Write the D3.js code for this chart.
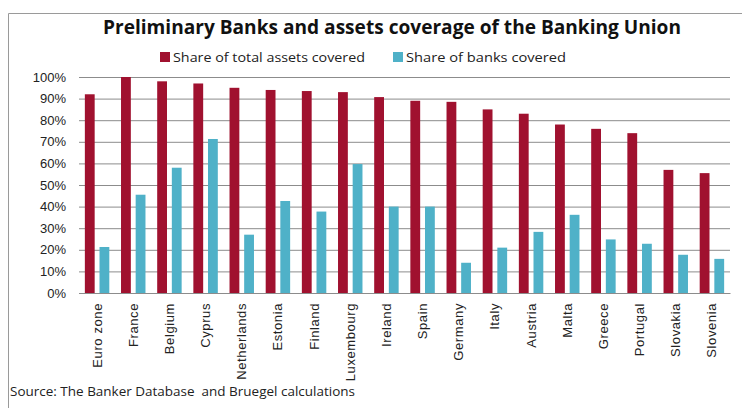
<!DOCTYPE html>
<html>
<head>
<meta charset="utf-8">
<script src="https://cdn.jsdelivr.net/npm/d3@7"></script>
<style>
  body { margin: 0; background: #fff; }
  svg { font-family: "Open Sans", "Liberation Sans", sans-serif; }
</style>
</head>
<body>
<div id="chart"></div>
<script>
// data
const countries = ["Euro zone", "France", "Belgium", "Cyprus", "Netherlands", "Estonia", "Finland",
    "Luxembourg", "Ireland", "Spain", "Germany", "Italy", "Austria", "Malta", "Greece", "Portugal",
    "Slovakia", "Slovenia"];
const assetsShare = [0.92, 1.00, 0.98, 0.97, 0.95, 0.94, 0.935, 0.93, 0.907, 0.89, 0.885, 0.85,
    0.83, 0.78, 0.76, 0.74, 0.57, 0.555];
const banksShare = [0.213, 0.455, 0.58, 0.713, 0.27, 0.426, 0.377, 0.597, 0.40, 0.40, 0.14, 0.21,
    0.283, 0.362, 0.248, 0.228, 0.177, 0.158];
const yTicks = [0, 0.1, 0.2, 0.3, 0.4, 0.5, 0.6, 0.7, 0.8, 0.9, 1.0];
const seriesNames = ["Share of total assets covered", "Share of banks covered"];

const RED = "#a0112f";
const CYAN = "#4fb1c8";

const W = 745, H = 408;
const plot = { left: 79, right: 730, top: 77, bottom: 293 };

const svg = d3.select("#chart").append("svg")
    .attr("width", W)
    .attr("height", H);

svg.append("rect").attr("width", W).attr("height", H).attr("fill", "#fff");

// frame (only top and left visible in the picture)
svg.append("path")
    .attr("d", `M8.5,${H} V13.5 H742`)
    .attr("fill", "none")
    .attr("stroke", "#9a9a9a");

// title
svg.append("text")
    .attr("x", 392)
    .attr("y", 34)
    .attr("text-anchor", "middle")
    .attr("font-size", 19)
    .attr("font-weight", "bold")
    .attr("fill", "#111")
    .attr("textLength", 578)
    .attr("lengthAdjust", "spacingAndGlyphs")
    .text("Preliminary Banks and assets coverage of the Banking Union");

// legend
const legend = svg.append("g");
const legendX = [160, 393];
const legendW = [192, 160];
seriesNames.forEach((name, i) => {
    legend.append("rect")
        .attr("x", legendX[i]).attr("y", 52)
        .attr("width", 10).attr("height", 10)
        .attr("fill", i === 0 ? RED : CYAN);
    legend.append("text")
        .attr("x", legendX[i] + 13).attr("y", 62)
        .attr("font-size", 13)
        .attr("fill", "#222")
        .attr("textLength", legendW[i])
        .attr("lengthAdjust", "spacingAndGlyphs")
        .text(name);
});

// scales
const x = d3.scaleBand()
    .domain(countries)
    .range([plot.left, plot.right]);

const sub = d3.scaleBand()
    .domain([0, 1])
    .range([0, x.bandwidth()])
    .paddingInner(0.33)
    .paddingOuter(0.4);

const y = d3.scaleLinear()
    .domain([0, 1])
    .range([plot.bottom, plot.top]);

// gridlines + y labels
const yAxis = svg.append("g")
    .attr("transform", `translate(${plot.left},0)`)
    .call(d3.axisLeft(y)
        .tickValues(yTicks)
        .tickFormat(d3.format(".0%"))
        .tickSize(-(plot.right - plot.left))
        .tickPadding(13));
yAxis.select(".domain").remove();
yAxis.selectAll(".tick line").attr("stroke", "#8c8c8c");
yAxis.selectAll(".tick text")
    .attr("font-size", 13)
    .attr("fill", "#222");

// bars
const series = [assetsShare, banksShare];
series.forEach((vals, s) => {
    svg.append("g")
        .selectAll("rect")
        .data(countries)
        .join("rect")
        .attr("x", (d) => x(d) + sub(s))
        .attr("width", sub.bandwidth())
        .attr("y", (d, i) => y(vals[i]))
        .attr("height", (d, i) => y(0) - y(vals[i]))
        .attr("fill", s === 0 ? RED : CYAN);
});

// x labels, rotated
const xAxis = svg.append("g")
    .attr("transform", `translate(0,${plot.bottom})`)
    .call(d3.axisBottom(x).tickSize(0).tickPadding(0));
xAxis.select(".domain").attr("stroke", "#8c8c8c");
xAxis.selectAll(".tick text")
    .attr("font-size", 13)
    .attr("fill", "#222")
    .attr("letter-spacing", "0.6px")
    .attr("text-anchor", "end")
    .attr("transform", "translate(0,10) rotate(-90)")
    .attr("dy", "0.35em")
    .attr("x", 0)
    .attr("y", 0);

// source note (keeps the double space of the original)
svg.append("text")
    .attr("x", 10)
    .attr("y", 396)
    .attr("font-size", 13)
    .attr("fill", "#222")
    .style("white-space", "pre")
    .attr("textLength", 345)
    .attr("lengthAdjust", "spacingAndGlyphs")
    .text("Source: The Banker Database  and Bruegel calculations");
</script>
</body>
</html>
